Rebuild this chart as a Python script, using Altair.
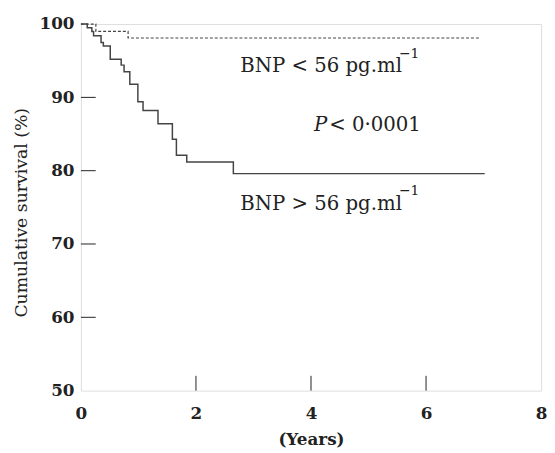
import altair as alt
import pandas as pd

# High BNP group (solid)
solid_x = [0, 0.11, 0.19, 0.22, 0.35, 0.39, 0.51, 0.70, 0.75, 0.85, 0.99, 1.08, 1.34, 1.59, 1.66, 1.84, 2.65, 7.02]
solid_y = [100, 99.5, 99.0, 98.4, 97.5, 97.0, 95.2, 94.4, 93.5, 91.8, 89.4, 88.2, 86.4, 84.3, 82.1, 81.2, 79.6, 79.6]
# Low BNP group (dashed)
dashed_x = [0, 0.26, 0.82, 6.93]
dashed_y = [100, 99.0, 98.1, 98.1]

x_ticks = [2, 4, 6]
y_ticks = [60, 70, 80, 90]

labels_text = ["BNP < 56 pg.ml", "BNP > 56 pg.ml"]
labels_x = [2.77, 2.77]
labels_y = [93.41, 74.6]
sup_text = ["\u22121", "\u22121"]
sup_x = [5.53, 5.53]
sup_y = [95.43, 76.62]

FONT = "DejaVu Serif"
INK = "#222222"

solid = pd.DataFrame({"t": solid_x, "s": solid_y})
dashed = pd.DataFrame({"t": dashed_x, "s": dashed_y})

xs = alt.Scale(domain=[0, 8], nice=False)
ys = alt.Scale(domain=[50, 100], nice=False)

x_enc = alt.X("t:Q", scale=xs, title="(Years)",
              axis=alt.Axis(values=[0, 2, 4, 6, 8], format="d", ticks=False, grid=False, domain=False,
                            labelFont=FONT, labelFontWeight="bold", labelFontSize=17, labelColor=INK,
                            labelPadding=15, titleFont=FONT, titleFontWeight="bold", titleFontSize=17,
                            titleColor=INK, titlePadding=11, labelFlush=False))
y_enc = alt.Y("s:Q", scale=ys, title="Cumulative survival (%)",
              axis=alt.Axis(values=[50, 60, 70, 80, 90, 100], format="d", ticks=False, grid=False, domain=False,
                            labelFont=FONT, labelFontWeight="bold", labelFontSize=17, labelColor=INK,
                            labelPadding=7, titleFont=FONT, titleFontWeight="normal", titleFontSize=17.5,
                            titleColor=INK, titleX=-60, titleY=191, titleBaseline="middle",
                            titleAlign="center"))

line_solid = alt.Chart(solid).mark_line(interpolate="step-after", color="#444444", strokeWidth=1.5).encode(
    x=x_enc, y=y_enc)
line_dashed = alt.Chart(dashed).mark_line(interpolate="step-after", color="#444444", strokeWidth=1.2,
                                          strokeDash=[3, 2]).encode(
    x=alt.X("t:Q", scale=xs), y=alt.Y("s:Q", scale=ys))

xt = alt.Chart(pd.DataFrame({"v": x_ticks})).mark_rule(color=INK, strokeWidth=1).encode(
    x=alt.X("v:Q", scale=xs), y=alt.value(372), y2=alt.value(357))
yt = alt.Chart(pd.DataFrame({"v": y_ticks})).mark_rule(color=INK, strokeWidth=1).encode(
    y=alt.Y("v:Q", scale=ys), x=alt.value(0), x2=alt.value(15))

ann = alt.Chart(pd.DataFrame({"x": labels_x, "y": labels_y, "txt": labels_text})).mark_text(
    align="left", baseline="alphabetic", font=FONT, fontSize=20, color=INK).encode(
    x=alt.X("x:Q", scale=xs), y=alt.Y("y:Q", scale=ys), text="txt:N")
sup = alt.Chart(pd.DataFrame({"x": sup_x, "y": sup_y, "txt": sup_text})).mark_text(
    align="left", baseline="alphabetic", font=FONT, fontSize=14, color=INK).encode(
    x=alt.X("x:Q", scale=xs), y=alt.Y("y:Q", scale=ys), text="txt:N")

p_df = pd.DataFrame({"x": [4.05], "y": [85.35], "a": ["P"], "b": ["< 0\u00b70001"]})
p1 = alt.Chart(p_df).mark_text(align="left", baseline="alphabetic", font=FONT, fontSize=20,
                               fontStyle="italic", color=INK).encode(
    x=alt.X("x:Q", scale=xs), y=alt.Y("y:Q", scale=ys), text="a:N")
p2 = alt.Chart(p_df).mark_text(align="left", baseline="alphabetic", font=FONT, fontSize=20,
                               color=INK).encode(
    x=alt.value(252), y=alt.Y("y:Q", scale=ys), text="b:N")

chart = alt.layer(line_solid, line_dashed, xt, yt, ann, sup, p1, p2).properties(
    width=467, height=372,
    autosize=alt.AutoSizeParams(type="none"),
    padding={"left": 74, "top": 13, "right": 6, "bottom": 60},
).configure_view(stroke=INK, strokeWidth=1.2).configure(background="white")

chart.save("out.html", embed_options={"renderer": "svg", "actions": False})
